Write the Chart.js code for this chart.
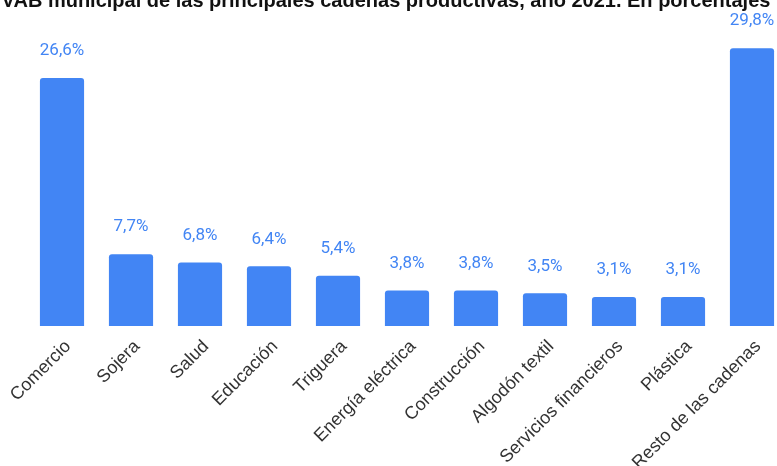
<!DOCTYPE html>
<html>
<head>
<meta charset="utf-8">
<script src="https://cdn.jsdelivr.net/npm/chart.js@4"></script>
<style>
    html, body { margin: 0; padding: 0; background: #fff; overflow: hidden; width: 777px; height: 466px; }
    #wrap { position: absolute; left: -16px; top: -24px; width: 804px; height: 530px; }
</style>
</head>
<body>
<div id="wrap"><canvas id="vabChart" width="804" height="530"></canvas></div>
<script>
const categories = ['Comercio', 'Sojera', 'Salud', 'Educación', 'Triguera', 'Energía eléctrica',
    'Construcción', 'Algodón textil', 'Servicios financieros', 'Plástica', 'Resto de las cadenas'];
const shares = [26.6, 7.7, 6.8, 6.4, 5.4, 3.8, 3.8, 3.5, 3.1, 3.1, 29.8];
const chartTitle = 'VAB municipal de las principales cadenas productivas, año 2021. En porcentajes';

// draws the "26,6%" style labels over each bar
const valueLabels = {
    id: 'valueLabels',
    afterDatasetsDraw(chart) {
        const ctx = chart.ctx;
        const meta = chart.getDatasetMeta(0);
        ctx.save();
        ctx.font = '17px Roboto';
        ctx.fillStyle = '#4285f4';
        ctx.textAlign = 'center';
        ctx.textBaseline = 'middle';
        meta.data.forEach((bar, i) => {
            const txt = shares[i].toFixed(1).replace('.', ',') + '%';
            ctx.fillText(txt, bar.x, bar.y - 27);
        });
        ctx.restore();
    }
};

document.addEventListener('DOMContentLoaded', function() {
    const ctx = document.getElementById('vabChart').getContext('2d');
    new Chart(ctx, {
        type: 'bar',
        data: {
            labels: categories,
            datasets: [{
                data: shares,
                backgroundColor: '#4285f4',
                borderRadius: 3,
                borderSkipped: 'bottom',
                barPercentage: 0.8,
                categoryPercentage: 0.8
            }]
        },
        options: {
            responsive: false,
            animation: false,
            layout: { padding: 0 },
            plugins: {
                legend: { display: false },
                tooltip: { enabled: false },
                title: {
                    display: true,
                    text: chartTitle,
                    color: '#111',
                    font: { family: 'Liberation Sans', size: 20, weight: 'bold' },
                    padding: { top: 13, bottom: 14.7 }
                }
            },
            scales: {
                x: {
                    grid: { display: false },
                    border: { display: false },
                    ticks: {
                        minRotation: 45,
                        maxRotation: 45,
                        autoSkip: false,
                        color: '#333',
                        padding: 2,
                        labelOffset: 6,
                        font: { family: 'Liberation Sans', size: 18 }
                    },
                    afterFit(scale) {
                        scale.height = 180;
                        scale.paddingLeft = 43.5;
                        scale.paddingRight = 1.5;
                    }
                },
                y: {
                    display: false,
                    min: 0,
                    max: 32
                }
            }
        },
        plugins: [valueLabels]
    });
});
</script>
</body>
</html>
